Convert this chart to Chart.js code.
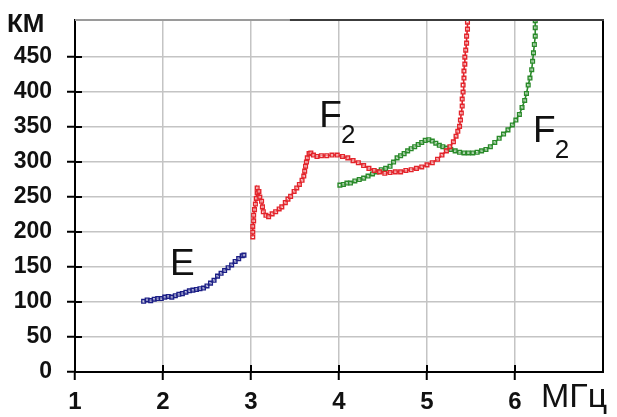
<!DOCTYPE html>
<html>
<head>
<meta charset="utf-8">
<script src="https://cdn.jsdelivr.net/npm/chart.js@4/dist/chart.umd.min.js"></script>
<style>
  html, body { margin: 0; padding: 0; background: #fff; }
  #wrap { width: 617px; height: 417px; }
</style>
</head>
<body>
<div id="wrap"><canvas id="c" width="617" height="417"></canvas></div>
<script>
// Ionogram traces: frequency (MHz) vs virtual height (km)
const eLayerFreq = [1.78, 1.82, 1.86, 1.90, 1.94, 1.98, 2.02, 2.06, 2.10, 2.14, 2.18, 2.22, 2.26, 2.30, 2.34, 2.38, 2.42, 2.46, 2.50, 2.54, 2.58, 2.62, 2.66, 2.70, 2.74, 2.78, 2.82, 2.86, 2.90, 2.92];
const eLayerKm   = [101, 103, 102, 104, 105, 105, 107, 108, 107, 109, 111, 112, 114, 116, 117, 118, 119, 120, 123, 127, 131, 137, 141, 145, 149, 153, 158, 162, 166, 167];

const f2RedFreq = [3.02, 3.02, 3.02, 3.03, 3.03, 3.04, 3.05, 3.06, 3.07, 3.07, 3.09, 3.10, 3.12, 3.13, 3.14, 3.17, 3.20, 3.24, 3.28, 3.32, 3.35, 3.39, 3.42, 3.45, 3.49, 3.52, 3.55, 3.58, 3.60, 3.61, 3.62, 3.63, 3.64, 3.66, 3.68, 3.71, 3.75, 3.80, 3.86, 3.92, 3.98, 4.04, 4.10, 4.16, 4.22, 4.28, 4.34, 4.40, 4.46, 4.52, 4.58, 4.64, 4.70, 4.76, 4.82, 4.88, 4.94, 5.00, 5.06, 5.12, 5.17, 5.22, 5.26, 5.30, 5.33, 5.35, 5.37, 5.38, 5.39, 5.40, 5.40, 5.41, 5.41, 5.42, 5.42, 5.43, 5.43, 5.44, 5.45, 5.45, 5.46, 5.46];
const f2RedKm   = [193, 200, 208, 216, 224, 232, 240, 248, 256, 263, 258, 250, 244, 236, 229, 224, 222, 226, 229, 233, 236, 242, 247, 251, 258, 263, 268, 274, 280, 287, 294, 300, 306, 312, 313, 310, 308, 309, 309, 310, 310, 308, 306, 302, 299, 295, 291, 288, 286, 284, 285, 286, 286, 288, 289, 291, 293, 296, 299, 304, 310, 316, 322, 329, 337, 344, 351, 360, 370, 380, 390, 400, 410, 420, 430, 440, 450, 460, 470, 480, 490, 500];

const f2GreenFreq = [4.01, 4.05, 4.09, 4.13, 4.18, 4.23, 4.28, 4.33, 4.38, 4.43, 4.48, 4.53, 4.58, 4.62, 4.66, 4.70, 4.74, 4.78, 4.82, 4.86, 4.90, 4.94, 4.98, 5.02, 5.06, 5.10, 5.14, 5.18, 5.22, 5.27, 5.32, 5.37, 5.42, 5.47, 5.52, 5.57, 5.62, 5.67, 5.72, 5.77, 5.82, 5.87, 5.92, 5.97, 6.01, 6.05, 6.08, 6.11, 6.13, 6.15, 6.17, 6.19, 6.20, 6.21, 6.22, 6.23, 6.23, 6.23];
const f2GreenKm   = [267, 268, 270, 270, 273, 275, 277, 280, 283, 286, 289, 291, 294, 300, 306, 309, 312, 316, 319, 322, 325, 328, 331, 332, 330, 327, 324, 322, 320, 318, 316, 314, 313, 313, 313, 314, 316, 318, 322, 328, 334, 340, 346, 353, 360, 368, 378, 388, 398, 410, 420, 432, 444, 456, 468, 480, 492, 502];

const xTickValues = [1, 2, 3, 4, 5, 6];
const yTickValues = [0, 50, 100, 150, 200, 250, 300, 350, 400, 450];
const xRange = [1, 7];
const yRange = [0, 503];

// layer labels placed in data units: [text, subscript, freq, km]
const layerLabels = [
  ['E', '', 2.115, 139],
  ['F', '2', 3.81, 350],
  ['F', '2', 6.24, 329]
];
const yAxisTitle = 'КМ';
const xAxisTitle = 'МГц';

const FONT = '"Liberation Sans", Arial, sans-serif';

function pairs(xs, ys) { return xs.map((x, i) => ({ x: x, y: ys[i] })); }

function traceStyle(color) {
  return {
    showLine: true,
    borderColor: color,
    borderWidth: 1.6,
    pointStyle: 'rect',
    pointRadius: 2.6,
    pointBorderWidth: 1.4,
    pointBorderColor: color,
    pointBackgroundColor: 'rgba(255,255,255,0.5)',
    tension: 0
  };
}

const frame = {
  id: 'frame',
  afterDraw(chart) {
    const ctx = chart.ctx;
    const a = chart.chartArea;
    const xs = chart.scales.x, ys = chart.scales.y;
    ctx.save();
    // inner halves of the axis tick marks
    ctx.strokeStyle = '#000';
    ctx.lineWidth = 2;
    yTickValues.forEach(v => {
      const py = Math.round(ys.getPixelForValue(v));
      ctx.beginPath(); ctx.moveTo(a.left, py); ctx.lineTo(a.left + 7, py); ctx.stroke();
    });
    xTickValues.forEach(v => {
      const px = Math.round(xs.getPixelForValue(v));
      ctx.beginPath(); ctx.moveTo(px, a.bottom); ctx.lineTo(px, a.bottom - 7); ctx.stroke();
    });
    // right border
    ctx.beginPath(); ctx.moveTo(a.right, a.top); ctx.lineTo(a.right, a.bottom + 1); ctx.stroke();
    // top border
    const split = xs.getPixelForValue(3.44);
    ctx.strokeStyle = '#9a9a9a';
    ctx.beginPath(); ctx.moveTo(a.left, a.top); ctx.lineTo(split, a.top); ctx.stroke();
    ctx.strokeStyle = '#3c3c3c';
    ctx.beginPath(); ctx.moveTo(split, a.top); ctx.lineTo(a.right + 1, a.top); ctx.stroke();

    // axis titles
    ctx.fillStyle = '#111';
    ctx.textBaseline = 'alphabetic';
    ctx.textAlign = 'left';
    ctx.font = 'bold 26px ' + FONT;
    ctx.fillText(yAxisTitle, 7, a.top + 12);
    ctx.font = '34px ' + FONT;
    ctx.fillText(xAxisTitle, 541, a.bottom + 35);

    // layer labels
    layerLabels.forEach(([t, sub, f, km]) => {
      const px = xs.getPixelForValue(f), py = ys.getPixelForValue(km);
      ctx.font = '37px ' + FONT;
      ctx.fillText(t, px - 3, py);
      if (sub) {
        const w = ctx.measureText(t).width;
        ctx.font = '26px ' + FONT;
        ctx.fillText(sub, px - 3 + w - 1, py + 16);
      }
    });
    ctx.restore();
  }
};

new Chart(document.getElementById('c'), {
  type: 'scatter',
  data: {
    datasets: [
      Object.assign({ label: 'E', data: pairs(eLayerFreq, eLayerKm) }, traceStyle('#1c1f86')),
      Object.assign({ label: 'F2 (o)', data: pairs(f2RedFreq, f2RedKm) }, traceStyle('#e3242b')),
      Object.assign({ label: 'F2 (x)', data: pairs(f2GreenFreq, f2GreenKm) }, traceStyle('#2a8a2a'))
    ]
  },
  options: {
    responsive: false,
    animation: false,
    layout: { padding: { top: 20, right: 14, left: 0, bottom: 0 } },
    plugins: { legend: { display: false }, tooltip: { enabled: false } },
    scales: {
      x: {
        type: 'linear',
        min: xRange[0], max: xRange[1],
        afterBuildTicks(s) { s.ticks = xTickValues.map(v => ({ value: v })); },
        afterFit(s) { s.height = 45; s.paddingLeft = 0; s.paddingRight = 0; },
        grid: { color: '#c4c4c4', lineWidth: 1.5, tickColor: '#000', tickWidth: 2, tickLength: 8 },
        border: { color: '#000', width: 2 },
        ticks: { color: '#111', font: { family: FONT, size: 24, weight: 'bold' }, padding: 8, maxRotation: 0 }
      },
      y: {
        type: 'linear',
        min: yRange[0], max: yRange[1],
        afterBuildTicks(s) { s.ticks = yTickValues.map(v => ({ value: v })); },
        afterFit(s) { s.width = 75; s.paddingTop = 0; s.paddingBottom = 0; },
        grid: { color: '#c4c4c4', lineWidth: 1.5, tickColor: '#000', tickWidth: 2, tickLength: 8 },
        border: { color: '#000', width: 2 },
        ticks: { color: '#111', font: { family: FONT, size: 23, weight: 'bold' }, padding: 15 }
      }
    }
  },
  plugins: [frame]
});
</script>
</body>
</html>
